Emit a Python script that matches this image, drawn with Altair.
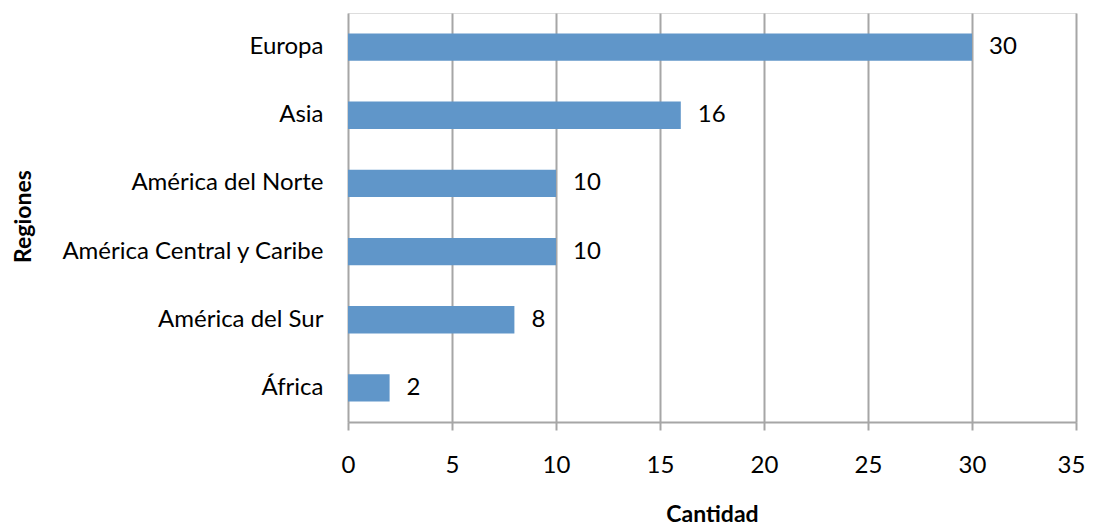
import altair as alt
import pandas as pd

regions = ["Europa", "Asia", "América del Norte", "América Central y Caribe", "América del Sur", "África"]
counts = [30, 16, 10, 10, 8, 2]
x_ticks = [0, 5, 10, 15, 20, 25, 30, 35]

df = pd.DataFrame({"Regiones": regions, "Cantidad": counts})

FONT = "Lato"
GRID = "#A6A6A6"
BAR = "#6096C9"
FS = 24

y_enc = alt.Y(
    "Regiones:N",
    sort=regions,
    scale=alt.Scale(paddingInner=0.6, paddingOuter=0.3),
    axis=alt.Axis(
        title="Regiones",
        domain=False,
        ticks=False,
        grid=False,
        labelPadding=25,
        labelLimit=400,
        labelFontSize=FS,
        labelFont=FONT,
        labelColor="#000000",
        titleFont=FONT,
        titleFontSize=23,
        titleFontWeight="bold",
        titleColor="#000000",
        titleAngle=-90,
        titleX=-325,
        titleY=203,
        titleAlign="center",
        titleBaseline="middle",
    ),
)

x_enc = alt.X(
    "Cantidad:Q",
    scale=alt.Scale(domain=[0, 35], nice=False),
    axis=alt.Axis(
        title="Cantidad",
        values=x_ticks,
        grid=True,
        gridColor=GRID,
        gridWidth=2,
        domainColor=GRID,
        domainWidth=2,
        tickColor=GRID,
        tickWidth=2,
        tickSize=8,
        labelFlush=False,
        labelOffset={"condition": {"test": "datum.value == 35", "value": -5}, "value": 0},
        labelPadding=23,
        labelFontSize=FS,
        labelFont=FONT,
        labelColor="#000000",
        titleFont=FONT,
        titleFontSize=23,
        titleFontWeight="bold",
        titleColor="#000000",
        titleX=364,
        titleY=92,
        titleBaseline="middle",
    ),
)

bars = alt.Chart(df).mark_bar(color=BAR).encode(x=x_enc, y=y_enc)

labels = alt.Chart(df).mark_text(
    align="left", baseline="middle", dx=17, font=FONT, fontSize=FS, color="#000000"
).encode(
    x=alt.X("Cantidad:Q"),
    y=alt.Y("Regiones:N", sort=regions),
    text=alt.Text("Cantidad:Q"),
)

chart = (
    alt.layer(bars, labels)
    .properties(
        width=728,
        height=409,
        autosize=alt.AutoSizeParams(type="none"),
        padding={"left": 340, "top": 5, "right": 9, "bottom": 105},
    )
    .configure_view(stroke=None)
    .configure(background="white")
)

chart.save("out.html", embed_options={"renderer": "svg", "actions": False})
